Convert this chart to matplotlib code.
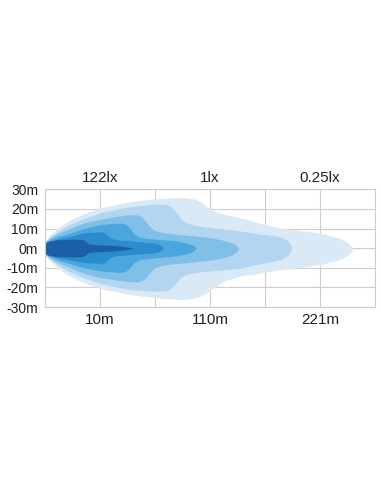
import matplotlib
matplotlib.use('Agg')
import matplotlib.pyplot as plt

# beam pattern contours, x in grid columns (0-6), y in metres
l1_x = [0, 0.1, 0.25, 0.4, 0.7, 1.0, 1.5, 2.0, 2.45, 2.6, 2.75, 2.85, 2.95, 3.05, 3.15, 3.3, 3.55, 3.9, 4.27, 4.7, 5.0, 5.36, 5.51, 5.57, 5.6]
l1_top = [3.5, 7, 10.5, 13.5, 17.5, 20.5, 23.5, 25.3, 25.8, 25.6, 24.8, 23.2, 21, 19.3, 18.2, 17, 15.5, 12.8, 10.3, 8.8, 7.7, 5.1, 2.6, 1.0, -0.5]
l1_bot = [-3.5, -6.5, -10.5, -13.5, -17.5, -20.5, -23.5, -25.3, -26.2, -26, -25.3, -24.2, -22.5, -20.5, -18.6, -16.3, -14.2, -12.8, -11, -9.6, -8.5, -5.9, -3.6, -2.0, -0.5]

l2_x = [0, 0.1, 0.25, 0.4, 0.7, 1.0, 1.5, 2.0, 2.2, 2.3, 2.38, 2.45, 2.55, 2.7, 3.0, 3.5, 3.9, 4.27, 4.4, 4.46, 4.49]
l2_top = [3.3, 6, 9, 11.5, 15, 18, 21, 22.5, 22.3, 21, 18.5, 15.5, 13.2, 11.7, 10.5, 9, 7.2, 6, 4, 2.2, 0]
l2_bot = [-3.3, -6, -9, -11.5, -15, -18, -21, -22, -21.7, -20.2, -18, -15.3, -13.5, -12.5, -11.6, -10.5, -8, -6, -4, -2.2, 0]

l3_x = [0, 0.1, 0.25, 0.4, 0.7, 1.0, 1.5, 1.68, 1.78, 1.85, 1.92, 2.0, 2.15, 2.34, 2.95, 3.2, 3.4, 3.48, 3.52]
l3_top = [3.1, 5.5, 7.7, 9.5, 12.8, 14.8, 17, 17, 15.5, 13, 10.5, 9, 7.9, 7.3, 5.6, 4.3, 2.7, 1.5, 0]
l3_bot = [-3.1, -5.3, -7.5, -9.3, -12.8, -15, -17, -17.2, -16.3, -14.5, -12, -10, -8.6, -8.0, -6.3, -5.2, -3.5, -2, 0]

l4_x = [0, 0.1, 0.25, 0.4, 0.7, 1.0, 1.35, 1.47, 1.55, 1.62, 1.7, 1.8, 2.0, 2.35, 2.6, 2.7, 2.75]
l4_top = [2.9, 4.5, 6, 7.2, 10, 12, 12.8, 12.2, 10, 7.3, 5.8, 5.1, 4.6, 3.9, 2.5, 1.4, 0]
l4_bot = [-2.9, -4.5, -6.2, -7.5, -10, -11.5, -12.4, -11.8, -9.8, -7.3, -6, -5.5, -5, -4, -2.7, -1.5, 0]

l5_x = [0, 0.1, 0.25, 0.4, 0.7, 1.0, 1.08, 1.14, 1.2, 1.3, 1.6, 2.0, 2.1, 2.15]
l5_top = [2.7, 3.8, 4.8, 5.6, 7.8, 8.4, 8.0, 6.5, 5.0, 4.3, 3.6, 2.6, 1.6, 0]
l5_bot = [-2.7, -3.8, -4.9, -5.8, -7.3, -7.8, -7.4, -6.0, -4.6, -3.9, -3.2, -2.4, -1.5, 0]

core_x = [0, 0.05, 0.2, 0.5, 0.68, 0.73, 0.77, 0.82, 1.0, 1.2, 1.4, 1.55, 1.6]
core_top = [2.4, 3.3, 4.2, 4.6, 4.4, 3.8, 2.6, 2.0, 1.7, 1.5, 1.0, 0.4, 0]
core_bot = [-2.4, -3.5, -4.3, -4.5, -4.3, -3.7, -2.5, -2.1, -1.8, -1.5, -1.0, -0.4, 0]

colors = ['#dae9f6', '#b3d5ef', '#80c0e8', '#4aa7de', '#2b8bcc', '#1b5fa7']

y_ticks = [30, 20, 10, 0, -10, -20, -30]
y_labels = ['30m', '20m', '10m', '0m', '-10m', '-20m', '-30m']
bottom_labels = ['', '10m', '', '110m', '', '221m', '']
top_labels = ['', '122lx', '', '1lx', '', '0.25lx', '']

plt.rcParams['font.family'] = ['Liberation Sans', 'DejaVu Sans']

fig = plt.figure(figsize=(3.81, 4.92), dpi=100)
ax = fig.add_axes([0.1181, 0.376, 0.8661, 0.2392])

shapes = [(l1_x, l1_top, l1_bot), (l2_x, l2_top, l2_bot), (l3_x, l3_top, l3_bot),
          (l4_x, l4_top, l4_bot), (l5_x, l5_top, l5_bot), (core_x, core_top, core_bot)]
for (x, top, bot), c in zip(shapes, colors):
    ax.fill_between(x, bot, top, color=c, linewidth=0, zorder=2)

ax.set_xlim(0, 6)
ax.set_ylim(-30, 30)
ax.set_xticks(range(7))
ax.set_xticklabels(bottom_labels, fontsize=11, color='#222222')
ax.set_yticks(y_ticks)
ax.set_yticklabels(y_labels, fontsize=10, color='#222222')
ax.tick_params(length=0)
ax.tick_params(axis='x', pad=4)
ax.tick_params(axis='y', pad=5)

ax.grid(True, color='#cdcdcd', linewidth=0.8)
ax.set_axisbelow(True)
for s in ax.spines.values():
    s.set_color('#cdcdcd')
    s.set_linewidth(0.8)

top_ax = ax.secondary_xaxis('top')
top_ax.set_xticks(range(7))
top_ax.set_xticklabels(top_labels, fontsize=11, color='#222222')
top_ax.tick_params(length=0, pad=3)
top_ax.spines['top'].set_visible(False)

fig.savefig('out.png', dpi=100)
